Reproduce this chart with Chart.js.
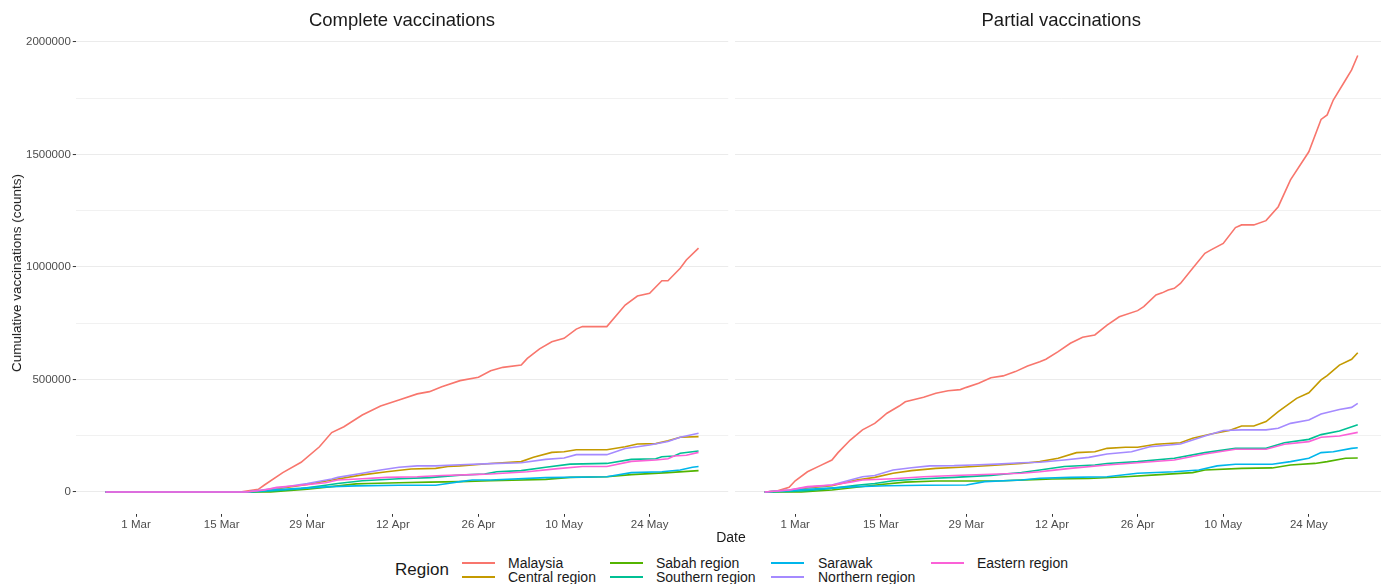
<!DOCTYPE html>
<html>
<head>
<meta charset="utf-8">
<script src="https://cdn.jsdelivr.net/npm/chart.js@4.4.1/dist/chart.umd.min.js"></script>
<style>
  html, body { margin:0; padding:0; background:#fff; }
  body { width:1381px; height:584px; overflow:hidden; position:relative; font-family:"Liberation Sans", Arial, sans-serif; }
  canvas { position:absolute; top:0; }
  .abs { position:absolute; white-space:nowrap; }
  .strip { font-size:18.5px; color:#1a1a1a; text-align:center; line-height:22px; top:9px; }
  .leg-key { position:absolute; height:2px; width:33px; }
  .leg-txt { position:absolute; font-size:14px; line-height:16px; color:#1a1a1a; white-space:nowrap; }
</style>
</head>
<body>
<canvas id="cLeft" width="732" height="540" style="left:0px;"></canvas>
<canvas id="cRight" width="660" height="540" style="left:735px;"></canvas>

<div class="abs strip" style="left:75.8px;width:652.4px;">Complete vaccinations</div>
<div class="abs strip" style="left:735px;width:652.4px;">Partial vaccinations</div>
<div class="abs" style="left:731px;top:529px;transform:translateX(-50%);font-size:14px;line-height:16px;color:#1a1a1a;">Date</div>
<div class="abs" style="left:17px;top:273px;transform:translate(-50%,-50%) rotate(-90deg);font-size:13.5px;line-height:16px;color:#1a1a1a;">Cumulative vaccinations (counts)</div>
<div id="legend"></div>

<script>
// ---------- Tick labels / categories ----------
// x values are days since 24 Feb 2021
const tickDays = [5, 19, 33, 47, 61, 75, 89];
const tickLabels = ['1 Mar', '15 Mar', '29 Mar', '12 Apr', '26 Apr', '10 May', '24 May'];
const yLabelValues = [0, 500000, 1000000, 1500000, 2000000];
const yGridValues = [0, 250000, 500000, 750000, 1000000, 1250000, 1500000, 1750000, 2000000];
const regions = ['Malaysia', 'Central region', 'Sabah region', 'Southern region', 'Sarawak', 'Northern region', 'Eastern region'];
const regionColors = ['#F8766D', '#C49A00', '#53B400', '#00C094', '#00B6EB', '#A58AFF', '#FB61D7'];

// ---------- Complete vaccinations ----------
const completeMalaysiaDays = [0,22,25,26,29,32,35,37,39,42,45,48,51,53,55,58,61,63,65,68,69,71,73,75,77,78,82,85,87,89,91,92,94,95,97];
const completeMalaysiaVals = [0,0,12000,31000,86000,132000,201000,264000,290000,342000,382000,409000,436000,446000,468000,495000,510000,539000,554000,564000,594000,636000,668000,683000,724000,735000,735000,831000,871000,883000,939000,939000,994000,1031000,1084000];
const completeCentralDays = [0,24,29,33,37,42,46,50,54,56,58,63,68,70,73,75,77,82,85,87,90,92,94,97];
const completeCentralVals = [0,0,18000,33000,53000,76000,90000,102000,105000,113000,116000,127000,135000,154000,176000,179000,188000,188000,201000,213000,215000,228000,243000,246000];
const completeSabahDays = [0,27,33,37,41,43,48,53,58,63,72,76,82,86,92,97];
const completeSabahVals = [0,0,12000,24000,36000,38000,41000,44000,46000,50000,56000,65000,68000,77000,86000,95000];
const completeSouthernDays = [0,24,28,32,36,38,42,48,53,58,62,64,68,72,76,82,86,90,91,93,94,97];
const completeSouthernVals = [0,0,6000,15000,30000,38000,50000,59000,64000,75000,80000,90000,95000,110000,124000,127000,145000,148000,157000,160000,172000,182000];
const completeSarawakDays = [0,23,26,31,37,41,48,54,56,58,60,63,72,82,86,91,94,96,97];
const completeSarawakVals = [0,0,6000,15000,24000,27000,30000,30000,38000,46000,53000,53000,64000,68000,86000,90000,98000,110000,113000];
const completeNorthernDays = [0,23,29,33,37,38,42,45,48,51,54,58,63,68,72,75,77,82,85,89,92,94,97];
const completeNorthernVals = [0,0,21000,38000,58000,65000,83000,98000,110000,116000,116000,121000,126000,130000,145000,151000,166000,166000,193000,209000,224000,243000,261000];
const completeEasternDays = [0,23,26,28,32,36,38,42,46,51,55,60,63,69,74,78,82,86,90,92,93,95,97];
const completeEasternVals = [0,0,9000,21000,30000,41000,53000,59000,65000,68000,73000,77000,80000,90000,104000,113000,113000,136000,142000,148000,160000,163000,176000];

// ---------- Partial vaccinations ----------
const partialMalaysiaDays = [0,2,4,5,7,9,11,12,14,16,18,19,20,22,23,26,28,30,32,33,35,37,39,41,43,45,46,48,50,52,54,56,58,61,62,64,65,66,67,68,70,72,73,75,77,78,80,82,84,86,89,91,92,93,95,96,97];
const partialMalaysiaVals = [0,4000,21000,50000,90000,116000,142000,175000,231000,276000,305000,327000,350000,382000,401000,421000,439000,450000,455000,465000,483000,508000,516000,535000,560000,579000,590000,624000,661000,688000,698000,742000,779000,806000,824000,876000,885000,898000,905000,927000,994000,1061000,1076000,1105000,1175000,1187000,1187000,1206000,1268000,1387000,1512000,1656000,1676000,1742000,1831000,1876000,1940000];
const partialCentralDays = [0,4,7,11,15,18,21,24,28,32,37,42,45,48,51,54,56,59,61,64,68,70,73,76,78,80,82,84,87,89,91,92,94,96,97];
const partialCentralVals = [0,8000,18000,28000,53000,65000,83000,95000,105000,110000,118000,127000,135000,150000,175000,179000,194000,199000,199000,212000,219000,239000,258000,273000,293000,293000,313000,357000,416000,441000,498000,517000,564000,590000,619000];
const partialSabahDays = [0,6,11,15,19,23,28,34,39,45,47,53,59,64,70,72,78,83,86,90,92,95,97];
const partialSabahVals = [0,0,9000,21000,33000,44000,49000,49000,50000,56000,58000,60000,68000,76000,86000,98000,105000,107000,120000,127000,135000,150000,151000];
const partialSouthernDays = [0,4,7,11,15,18,21,26,31,37,42,45,49,54,56,61,67,72,77,82,85,89,91,94,97];
const partialSouthernVals = [0,2000,6000,16000,30000,38000,50000,59000,65000,74000,87000,98000,113000,120000,127000,135000,150000,175000,194000,194000,219000,234000,255000,271000,299000];
const partialSarawakDays = [0,4,9,15,20,26,33,36,42,45,50,56,61,67,71,74,77,83,86,89,91,93,96,97];
const partialSarawakVals = [0,6000,15000,24000,28000,30000,31000,46000,53000,61000,65000,68000,83000,90000,98000,116000,123000,123000,135000,150000,175000,179000,194000,197000];
const partialNorthernDays = [0,4,7,11,14,16,18,21,24,27,31,34,38,42,45,49,53,56,60,63,68,72,75,78,82,84,86,89,91,94,96,97];
const partialNorthernVals = [0,9000,21000,31000,53000,68000,73000,98000,108000,116000,117000,120000,124000,130000,132000,142000,154000,169000,179000,201000,213000,249000,273000,276000,276000,283000,305000,320000,347000,367000,376000,394000];
const partialEasternDays = [0,4,7,11,14,16,21,26,31,37,42,45,47,50,56,61,67,72,77,82,85,89,91,94,97];
const partialEasternVals = [0,9000,24000,31000,44000,53000,59000,68000,73000,79000,83000,90000,96000,105000,120000,130000,142000,169000,190000,190000,212000,224000,243000,249000,265000];

const completeSeries = [
  [completeMalaysiaDays, completeMalaysiaVals],
  [completeCentralDays, completeCentralVals],
  [completeSabahDays, completeSabahVals],
  [completeSouthernDays, completeSouthernVals],
  [completeSarawakDays, completeSarawakVals],
  [completeNorthernDays, completeNorthernVals],
  [completeEasternDays, completeEasternVals]
];
const partialSeries = [
  [partialMalaysiaDays, partialMalaysiaVals],
  [partialCentralDays, partialCentralVals],
  [partialSabahDays, partialSabahVals],
  [partialSouthernDays, partialSouthernVals],
  [partialSarawakDays, partialSarawakVals],
  [partialNorthernDays, partialNorthernVals],
  [partialEasternDays, partialEasternVals]
];

const FONT = '"Liberation Sans", Arial, sans-serif';
Chart.defaults.font.family = FONT;

function toPoints(days, vals) { return days.map((d, i) => ({ x: d, y: vals[i] })); }

function makeChart(id, series, showY, rightPad, yWidth) {
  // later regions drawn on top (as in the reference): first dataset is drawn last in Chart.js
  const datasets = series.map((s, i) => ({
    label: regions[i],
    data: toPoints(s[0], s[1]),
    borderColor: regionColors[i],
    backgroundColor: regionColors[i],
    borderWidth: 1.6,
    pointRadius: 0,
    tension: 0,
    fill: false
  })).reverse();

  return new Chart(document.getElementById(id), {
    type: 'line',
    data: { datasets },
    options: {
      responsive: false,
      animation: false,
      devicePixelRatio: 1,
      layout: { padding: { top: 33.2, right: rightPad, bottom: 0, left: 0 } },
      plugins: { legend: { display: false }, tooltip: { enabled: false }, title: { display: false } },
      scales: {
        x: {
          type: 'linear',
          min: -4.85,
          max: 101.85,
          afterBuildTicks: (s) => { s.ticks = tickDays.map(v => ({ value: v })); },
          afterFit: (s) => { s.height = 26.2; },
          ticks: {
            autoSkip: false, maxRotation: 0, padding: 1,
            color: '#4d4d4d', font: { size: 11.5, family: FONT },
            callback: (v) => { const k = tickDays.indexOf(v); return k >= 0 ? tickLabels[k] : ''; }
          },
          grid: { drawOnChartArea: false, drawTicks: true, tickLength: 3, tickColor: '#333333', tickWidth: 1 },
          border: { display: false }
        },
        y: {
          type: 'linear',
          min: -96900,
          max: 2039100,
          afterBuildTicks: (s) => { s.ticks = yGridValues.map(v => ({ value: v })); },
          afterFit: (s) => { s.width = yWidth; },
          ticks: {
            display: showY, padding: 2,
            color: '#4d4d4d', font: { size: 11.5, family: FONT },
            callback: (v) => yLabelValues.includes(v) ? String(v) : ''
          },
          grid: {
            drawTicks: showY,
            tickLength: 3,
            color: '#ebebeb',
            lineWidth: (ctx) => (ctx.tick && yLabelValues.includes(ctx.tick.value)) ? 1.1 : 0.7,
            tickColor: (ctx) => (ctx.tick && yLabelValues.includes(ctx.tick.value)) ? '#333333' : 'rgba(0,0,0,0)',
            tickWidth: 1
          },
          border: { display: false }
        }
      }
    }
  });
}

makeChart('cLeft', completeSeries, true, 3.8, 75.8);
makeChart('cRight', partialSeries, false, 7.6, 0);

// ---------- Legend (HTML, column-major like ggplot) ----------
const legend = document.getElementById('legend');
const regTitle = document.createElement('div');
regTitle.className = 'abs';
regTitle.style.cssText = 'left:395px;top:560px;font-size:17px;line-height:20px;color:#1a1a1a;';
regTitle.textContent = 'Region';
legend.appendChild(regTitle);
const colKeyX = [462, 610, 771, 931];
const colTextX = [508, 656, 818, 977];
const rowY = [563, 577];
regions.forEach((name, i) => {
  const col = Math.floor(i / 2), row = i % 2;
  const key = document.createElement('div');
  key.className = 'leg-key';
  key.style.left = colKeyX[col] + 'px';
  key.style.top = (rowY[row] - 1) + 'px';
  key.style.background = regionColors[i];
  legend.appendChild(key);
  const t = document.createElement('div');
  t.className = 'leg-txt';
  t.style.left = colTextX[col] + 'px';
  t.style.top = (rowY[row] - 8) + 'px';
  t.textContent = name;
  legend.appendChild(t);
});
</script>
</body>
</html>
